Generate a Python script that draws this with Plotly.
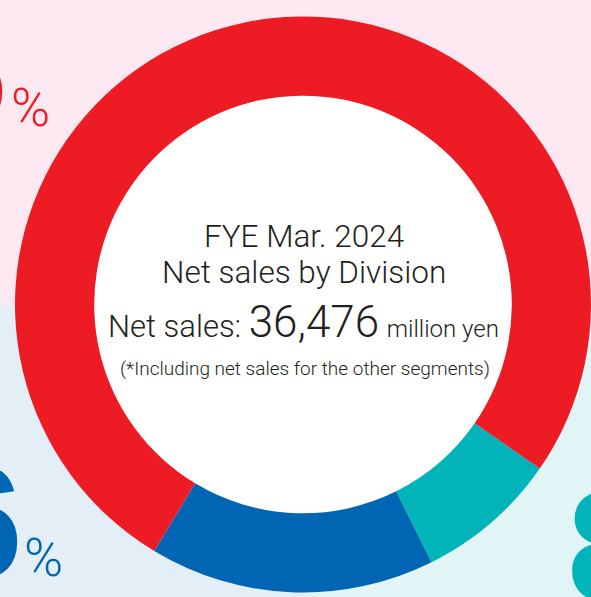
import plotly.graph_objects as go

W, H = 591, 597

# ---- data ----
divisions = ["Division C", "Division B", "Division A"]   # teal, blue, red (clockwise order)
shares = [8, 16, 76]                                      # % of net sales
colors = ["#00B4BA", "#0066B3", "#ED1C24"]
title_lines = ["FYE Mar. 2024", "Net sales by Division"]
net_sales_total = "36,476"
note = "(*Including net sales for the other segments)"

def px(x):
    return x / W

def py(y):
    return 1 - y / H

CX, CY, R, HOLE = 303, 304.5, 288, 0.725

fig = go.Figure()
fig.add_trace(go.Pie(
    labels=divisions, values=shares, sort=False, direction="clockwise",
    rotation=124.7, hole=HOLE,
    marker=dict(colors=colors, line=dict(width=0)),
    textinfo="none", hoverinfo="label+percent", showlegend=False,
    domain=dict(x=[px(CX - R), px(CX + R)], y=[py(CY + R), py(CY - R)]),
))

r_in = R * HOLE
shapes = [
    dict(type="rect", xref="paper", yref="paper", x0=-0.01, x1=px(303), y0=-0.01, y1=py(305),
         fillcolor="#E3EEF7", line=dict(width=0), layer="below"),
    dict(type="rect", xref="paper", yref="paper", x0=px(303), x1=1.01, y0=-0.01, y1=py(305),
         fillcolor="#E2F5F6", line=dict(width=0), layer="below"),
    dict(type="circle", xref="paper", yref="paper", x0=px(CX - r_in - 1), x1=px(CX + r_in + 1),
         y0=py(CY + r_in + 1), y1=py(CY - r_in - 1),
         fillcolor="#FFFFFF", line=dict(width=0), layer="below"),
]

FONT = "Liberation Sans, Arial, sans-serif"
LIGHT = "Roboto, Liberation Sans, Arial, sans-serif"
TXT = "#231F20"
ann = []
share_map = dict(zip(divisions, shares))
ann.append(dict(text=f"<b>{share_map['Division A']}</b>", x=px(10), y=py(71), xanchor="right", yanchor="middle",
                font=dict(size=160, color=colors[2], family=FONT)))
ann.append(dict(text="%", x=px(9), y=py(108), xanchor="left", yanchor="middle",
                font=dict(size=53, color=colors[2], family=LIGHT, weight=300)))
ann.append(dict(text=f"<b>{share_map['Division B']}</b>", x=px(25), y=py(521), xanchor="right", yanchor="middle",
                font=dict(size=160, color=colors[1], family=FONT)))
ann.append(dict(text="%", x=px(22), y=py(558), xanchor="left", yanchor="middle",
                font=dict(size=53, color=colors[1], family=LIGHT, weight=300)))
ann.append(dict(text=f"<b>{share_map['Division C']}</b>", x=px(565), y=py(545), xanchor="left", yanchor="middle",
                font=dict(size=160, color=colors[0], family=FONT)))

# centre text
ann.append(dict(text=title_lines[0], x=px(303.5), y=py(236), xanchor="center", yanchor="middle",
                font=dict(size=31.5, color=TXT, family=LIGHT, weight=300)))
ann.append(dict(text=title_lines[1], x=px(304), y=py(272), xanchor="center", yanchor="middle",
                font=dict(size=31.5, color=TXT, family=LIGHT, weight=300)))
ann.append(dict(text=("Net sales: <span style='font-size:44px'>" + net_sales_total +
                      "</span> <span style='font-size:24px'>million yen</span>"),
                x=px(303), y=py(350), xanchor="center", yanchor="bottom",
                font=dict(size=31, color=TXT, family=LIGHT, weight=300)))
ann.append(dict(text=note, x=px(304.5), y=py(368), xanchor="center", yanchor="middle",
                font=dict(size=19, color=TXT, family=LIGHT, weight=300)))

for a in ann:
    a.update(xref="paper", yref="paper", showarrow=False)

fig.update_layout(
    width=W, height=H, margin=dict(l=0, r=0, t=0, b=0),
    paper_bgcolor="#FCE8F0", plot_bgcolor="rgba(0,0,0,0)",
    shapes=shapes, annotations=ann,
)
fig.write_html("out.html", config={"displayModeBar": False},
               post_script="document.body.style.margin='0px';document.body.style.overflow='hidden';")
